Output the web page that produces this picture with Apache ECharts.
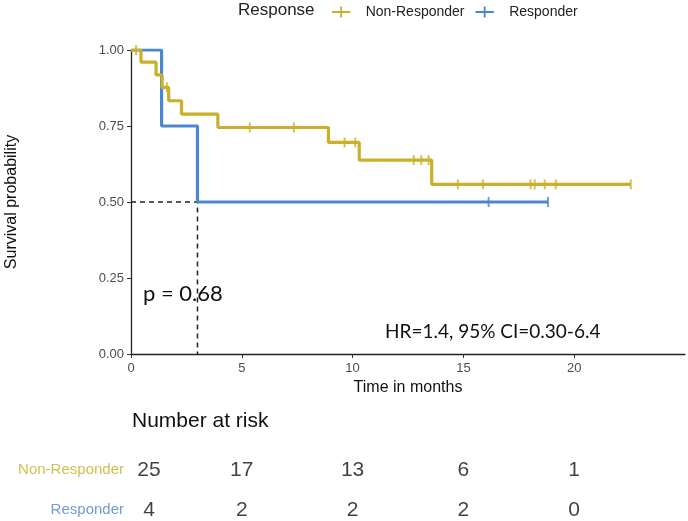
<!DOCTYPE html>
<html>
<head>
<meta charset="utf-8">
<script src="https://cdn.jsdelivr.net/npm/echarts@6.0.0/dist/echarts.min.js"></script>
<style>
  html, body { margin: 0; padding: 0; background: #fff; }
  #chart { width: 688px; height: 521px; }
</style>
</head>
<body>
<div id="chart"></div>
<script>
(function () {
    'use strict';

    // survival steps
    var nonRespTime = [0, 0.45, 1.13, 1.40, 1.70, 2.28, 3.92, 8.91, 10.30, 13.57, 22.55];
    var nonRespSurv = [1, 0.96, 0.918, 0.877, 0.833, 0.789, 0.745, 0.696, 0.638, 0.558, 0.558];
    var respTime = [0, 1.38, 3.0, 18.82];
    var respSurv = [1, 0.75, 0.5, 0.5];

    // censored observations (tick marks)
    var nonRespCensorTime = [0.23, 1.62, 5.36, 7.35, 9.64, 10.12, 12.76, 13.10, 13.43, 14.75, 15.88, 18.03, 18.22, 18.67, 19.17, 22.55];
    var nonRespCensorSurv = [1, 0.877, 0.745, 0.745, 0.696, 0.696, 0.638, 0.638, 0.638, 0.558, 0.558, 0.558, 0.558, 0.558, 0.558, 0.558];
    var respCensorTime = [16.14, 18.82];
    var respCensorSurv = [0.5, 0.5];

    // median survival of responders (dashed guide)
    var medianTime = 3.0;
    var medianSurv = 0.5;

    // risk table
    var groups = ['Non-Responder', 'Responder'];
    var riskTimes = [0, 5, 10, 15, 20];
    var riskNonResp = [25, 17, 13, 6, 1];
    var riskResp = [4, 2, 2, 2, 0];

    var xTicks = [0, 5, 10, 15, 20];

    var colNR = '#CAB02A';
    var colR = '#4A87D0';
    var sans = 'Liberation Sans, Arial, sans-serif';
    var calib = 'Lato, sans-serif';

    function zip(a, b) {
        return a.map(function (v, i) { return [v, b[i]]; });
    }

    function riskData(times, counts, group) {
        return times.map(function (t, i) {
            var item = { value: [t, group, counts[i]] };
            if (i === 0) { item.label = { offset: [18, 0] }; }
            return item;
        });
    }

    var chart = echarts.init(document.getElementById('chart'), null, { renderer: 'canvas' });

    var option = {
        animation: false,
        backgroundColor: '#fff',
        legend: {
            data: groups,
            left: 327,
            top: 0,
            icon: 'path://M0,5h20v2h-20z M9,0h2v12h-2z',
            itemWidth: 19,
            itemHeight: 11,
            itemGap: 11,
            textStyle: { fontFamily: sans, fontSize: 14, color: '#222', padding: [0, 0, 0, 10] }
        },
        graphic: [
            { type: 'text', left: 238, top: 2, style: { text: 'Response', font: '17px ' + sans, fill: '#222' } },
            { type: 'text', left: 143, top: 283, style: { text: 'p = 0.68', font: '22px ' + calib, fill: '#111' } },
            { type: 'text', left: 385, top: 322, style: { text: 'HR=1.4, 95% CI=0.30-6.4', font: '19px ' + calib, fill: '#111' } },
            { type: 'text', left: 132, top: 411, style: { text: 'Number at risk', font: '21px ' + sans, fill: '#111' } }
        ],
        grid: [
            { left: 131, right: 3, top: 50, height: 304, outerBoundsMode: 'none' },
            { left: 131, right: 3, top: 450, height: 80, outerBoundsMode: 'none' }
        ],
        xAxis: [
            {
                type: 'value', gridIndex: 0, min: 0, max: 25, interval: 5,
                name: 'Time in months', nameLocation: 'middle', nameGap: 26,
                nameTextStyle: { fontFamily: sans, fontSize: 16, color: '#111' },
                axisLine: { lineStyle: { color: '#222', width: 1.3 } },
                axisTick: { length: 4, customValues: xTicks, lineStyle: { color: '#333' } },
                axisLabel: { customValues: xTicks, fontFamily: sans, fontSize: 13, color: '#4d4d4d', margin: 8 },
                splitLine: { show: false }
            },
            {
                type: 'value', gridIndex: 1, min: 0, max: 25, show: false
            }
        ],
        yAxis: [
            {
                type: 'value', gridIndex: 0, min: 0, max: 1, interval: 0.25,
                name: 'Survival probability', nameLocation: 'middle', nameGap: 111,
                nameTextStyle: { fontFamily: sans, fontSize: 16, color: '#111' },
                axisLine: { show: true, lineStyle: { color: '#222', width: 1.3 } },
                axisTick: { show: true, length: 4, lineStyle: { color: '#333' } },
                axisLabel: {
                    fontFamily: sans, fontSize: 13, color: '#4d4d4d', margin: 7,
                    formatter: function (v) { return v.toFixed(2); }
                },
                splitLine: { show: false }
            },
            {
                type: 'category', gridIndex: 1, data: groups, inverse: true,
                axisLine: { show: false }, axisTick: { show: false },
                axisLabel: {
                    fontFamily: sans, fontSize: 15, margin: 7,
                    color: function (v) { return v === 'Responder' ? '#6E9CD3' : '#CFC04E'; }
                }
            }
        ],
        series: [
            {
                name: 'guide', type: 'line', xAxisIndex: 0, yAxisIndex: 0, symbol: 'none', silent: true,
                data: [[0, medianSurv], [medianTime, medianSurv], [medianTime, 0]],
                lineStyle: { color: '#222', width: 1.5, type: [5, 4] },
                z: 1
            },
            {
                name: 'Non-Responder', type: 'line', step: 'end', symbol: 'none', color: colNR,
                data: zip(nonRespTime, nonRespSurv),
                lineStyle: { width: 3.2, color: colNR }, z: 3
            },
            {
                name: 'Responder', type: 'line', step: 'end', symbol: 'none', color: colR,
                data: zip(respTime, respSurv),
                lineStyle: { width: 3.2, color: colR }, z: 2
            },
            {
                name: 'nr-censor', type: 'scatter', symbol: 'rect', symbolSize: [2, 10],
                data: zip(nonRespCensorTime, nonRespCensorSurv),
                itemStyle: { color: colNR }, z: 4
            },
            {
                name: 'r-censor', type: 'scatter', symbol: 'rect', symbolSize: [2, 10],
                data: zip(respCensorTime, respCensorSurv),
                itemStyle: { color: colR }, z: 4
            },
            {
                name: 'risk-nr', type: 'scatter', xAxisIndex: 1, yAxisIndex: 1, symbolSize: 0,
                data: riskData(riskTimes, riskNonResp, groups[0]),
                label: {
                    show: true, position: 'inside', fontFamily: sans, fontSize: 21, color: '#111',
                    formatter: function (p) { return String(p.value[2]); }
                }
            },
            {
                name: 'risk-r', type: 'scatter', xAxisIndex: 1, yAxisIndex: 1, symbolSize: 0,
                data: riskData(riskTimes, riskResp, groups[1]),
                label: {
                    show: true, position: 'inside', fontFamily: sans, fontSize: 21, color: '#111',
                    formatter: function (p) { return String(p.value[2]); }
                }
            }
        ]
    };

    chart.setOption(option);
})();
</script>
</body>
</html>
